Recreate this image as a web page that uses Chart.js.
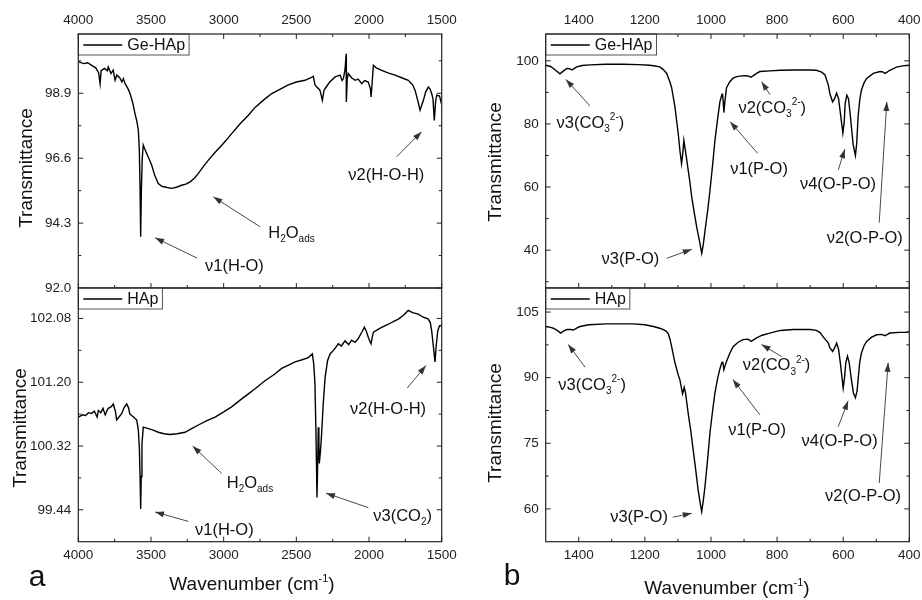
<!DOCTYPE html>
<html>
<head>
<meta charset="utf-8">
<script src="https://cdn.jsdelivr.net/npm/chart.js@4.4.0/dist/chart.umd.min.js"></script>
<style>
body{margin:0;background:#fff;}
#wrap{position:relative;width:922px;height:600px;overflow:hidden;font-family:"Liberation Sans",Arial,sans-serif;color:#111;}
canvas{position:absolute;left:0;top:0;}
.lbl{position:absolute;white-space:nowrap;transform:translate(-50%,-50%);line-height:1;}
.rot{transform:translate(-50%,-50%) rotate(-90deg);}
.sup{font-size:11px;position:relative;top:-8px;}
</style>
</head>
<body>
<div id="wrap">
<canvas id="tl" width="922" height="600"></canvas>
<canvas id="bl" width="922" height="600"></canvas>
<canvas id="tr" width="922" height="600"></canvas>
<canvas id="br" width="922" height="600"></canvas>
<div class="lbl rot" style="left:25px;top:168px;font-size:19px">Transmittance</div>
<div class="lbl rot" style="left:19px;top:428px;font-size:19px">Transmittance</div>
<div class="lbl rot" style="left:494px;top:162px;font-size:19px">Transmittance</div>
<div class="lbl rot" style="left:494px;top:423px;font-size:19px">Transmittance</div>
<div class="lbl" style="left:252px;top:583px;font-size:19px">Wavenumber (cm<span class="sup">-1</span>)</div>
<div class="lbl" style="left:727px;top:587px;font-size:19px">Wavenumber (cm<span class="sup">-1</span>)</div>
<div class="lbl" style="left:37px;top:576px;font-size:30px">a</div>
<div class="lbl" style="left:512px;top:575px;font-size:30px">b</div>
</div>
<script>
// x tick labels
const highXTicks = [4000, 3500, 3000, 2500, 2000, 1500];
const lowXTicks = [1400, 1200, 1000, 800, 600, 400];

// y tick labels for each panel
const geHighYTicks = [92.0, 94.3, 96.6, 98.9];
const hapHighYTicks = [99.44, 100.32, 101.20, 102.08];
const geLowYTicks = [40, 60, 80, 100];
const hapLowYTicks = [60, 75, 90, 105];

// Ge-HAp, 4000-1500 cm-1
const geHighX = [4000,3960,3935,3908,3880,3860,3850,3843,3820,3800,3794,3775,3760,3747,3735,3715,3700,3690,3678,3660,3644,3625,3610,3597,3587,3580,3575,3571,3566,3560,3553,3545,3530,3515,3495,3475,3450,3425,3402,3380,3357,3320,3289,3260,3231,3200,3174,3140,3105,3060,3013,2980,2945,2890,2830,2784,2716,2669,2610,2555,2500,2440,2400,2383,2372,2360,2345,2337,2321,2310,2302,2270,2233,2199,2185,2176,2165,2157,2156,2150,2143,2120,2096,2075,2050,2030,2005,1990,1986,1978,1970,1950,1912,1870,1821,1775,1730,1700,1683,1665,1649,1636,1626,1610,1592,1580,1569,1560,1551,1542,1534,1515,1500];
const geHighT = [100.01,99.95,99.98,99.89,99.80,99.62,99.24,99.70,99.78,99.70,99.83,99.60,99.72,99.36,99.55,99.45,99.30,99.42,99.24,99.08,98.89,98.55,98.18,97.90,97.59,96.88,95.5,93.82,95.5,96.6,97.06,96.95,96.77,96.60,96.35,96.0,95.70,95.60,95.58,95.55,95.53,95.58,95.64,95.68,95.76,95.90,96.06,96.30,96.53,96.80,97.06,97.25,97.47,97.80,98.12,98.40,98.70,98.89,99.05,99.20,99.30,99.36,99.45,99.50,99.20,99.12,99.05,99.0,98.65,99.0,99.07,99.30,99.48,99.54,99.35,99.42,99.75,100.30,98.59,99.40,99.60,99.45,99.36,99.40,99.24,99.35,99.30,99.05,98.77,99.3,99.89,99.80,99.71,99.62,99.54,99.45,99.36,99.20,99.0,98.65,98.30,98.50,98.65,98.95,99.12,99.05,98.89,98.70,97.94,98.60,98.83,98.80,98.50];

// HAp, 4000-1500 cm-1
const hapHighX = [4000,3970,3950,3930,3908,3890,3870,3862,3845,3830,3815,3800,3794,3775,3759,3745,3736,3720,3701,3685,3667,3655,3645,3633,3620,3610,3598,3587,3580,3575,3571,3567,3562,3553,3535,3518,3485,3450,3410,3369,3320,3266,3220,3174,3115,3059,3000,2945,2876,2830,2784,2716,2650,2601,2550,2509,2460,2418,2390,2380,2372,2365,2358,2352,2349,2345,2342,2334,2326,2315,2302,2285,2268,2240,2211,2190,2165,2140,2120,2096,2075,2050,2032,2018,2005,1993,1986,1978,1970,1920,1867,1830,1798,1765,1730,1700,1661,1630,1592,1578,1569,1555,1546,1538,1527,1515,1500];
const hapHighT = [100.72,100.75,100.74,100.78,100.77,100.80,100.72,100.81,100.78,100.84,100.75,100.82,100.84,100.86,100.90,100.80,100.68,100.72,100.77,100.85,100.90,100.85,100.76,100.74,100.72,100.70,100.68,100.54,100.30,99.90,99.45,99.90,100.35,100.58,100.57,100.56,100.54,100.51,100.49,100.48,100.49,100.51,100.56,100.61,100.67,100.72,100.79,100.86,100.97,101.04,101.11,101.22,101.31,101.39,101.44,101.48,101.51,101.54,101.59,101.45,101.18,100.5,99.61,100.2,100.58,100.4,100.08,100.25,100.49,100.9,101.27,101.50,101.59,101.65,101.73,101.70,101.77,101.72,101.78,101.75,101.80,101.89,101.96,101.90,101.82,101.76,101.73,101.82,101.89,101.95,102.00,102.04,102.07,102.12,102.19,102.16,102.14,102.10,102.07,102.02,101.91,101.65,101.48,101.70,101.91,101.98,101.98];

// Ge-HAp, 1500-400 cm-1
const geLowX = [1500,1485,1470,1457,1445,1436,1428,1421,1412,1406,1390,1366,1320,1265,1220,1185,1165,1154,1145,1134,1125,1119,1109,1099,1094,1089,1085,1082,1078,1073,1065,1058,1050,1043,1035,1028,1023,1018,1010,1003,995,988,980,973,967,965,963,961,958,953,943,933,922,900,888,879,872,862,852,822,790,751,700,681,665,655,645,640,632,626,620,614,608,601,597,594,589,584,578,570,563,559,555,550,545,537,529,509,489,480,474,466,459,439,420,400];
const geLowT = [98.6,98.2,97.0,95.9,96.9,97.6,97.5,97.1,97.7,98.1,98.5,98.7,98.9,98.9,98.8,98.6,98.3,98.0,97.3,96.0,93.5,91.5,85.4,76.9,71.6,67.4,71.0,74.8,72.0,68.4,62.5,56.7,51.5,47.2,43.0,39.0,42.0,46.2,52.5,58.9,67.0,74.8,81.5,87.0,89.3,89.4,87.0,83.6,87.0,91.5,93.4,94.5,95.0,95.3,95.2,94.8,95.3,96.0,96.6,96.8,97.0,97.1,97.1,97.0,96.4,95.5,92.3,89.5,87.0,88.0,89.8,88.0,83.0,77.1,80.5,86.5,89.1,88.0,82.2,73.5,70.0,74.0,82.2,87.5,90.7,93.0,94.4,96.0,96.6,96.5,96.0,96.5,97.0,98.0,98.4,98.6];

// HAp, 1500-400 cm-1
const hapLowX = [1500,1485,1477,1465,1455,1445,1436,1425,1416,1405,1396,1370,1315,1235,1200,1174,1155,1144,1135,1129,1124,1119,1109,1099,1094,1086,1081,1077,1069,1061,1054,1046,1039,1033,1028,1023,1018,1010,1003,995,988,980,973,967,964,961,957,953,943,933,918,903,888,878,870,862,845,822,790,751,700,681,670,665,655,645,640,632,626,620,614,608,600,596,592,587,582,576,569,563,558,554,550,545,537,529,515,499,484,474,466,459,430,409,400];
const hapLowT = [101.7,101.5,101.3,100.8,100.2,100.7,101.0,101.0,100.9,101.4,101.7,102.1,102.3,102.3,102.1,101.7,101.3,101.0,100.6,100.0,98.8,97.1,93.4,90.6,89.5,86.3,87.8,86.5,81.9,77.8,73.6,68.8,64.4,61.5,59.4,62.0,65.2,71.5,77.4,82.5,86.5,89.8,92.0,93.5,93.5,91.8,92.8,93.7,95.6,97.1,98.1,98.7,98.8,98.3,98.7,99.1,99.7,100.2,100.8,101.0,101.0,100.8,100.3,99.8,98.8,97.9,96.8,96.0,96.8,97.9,96.5,93.0,87.6,90.0,93.5,94.9,93.5,90.0,86.5,85.4,87.0,90.3,93.5,95.6,97.3,98.3,99.2,99.8,99.9,99.6,99.9,100.2,100.35,100.4,100.5];

const FONT = '"Liberation Sans", Arial, sans-serif';

function nu(t){ return [[t, '']]; }
const co3 = n => [['ν' + n + '(CO', ''], ['3', 'sub'], ['2-', 'sup'], [')', '']];
const h2o = [['H', ''], ['2', 'sub'], ['O', ''], ['ads', 'sub']];

// annotations in data units: text left/middle, arrow tail, arrow head
const geHighNotes = [
  {parts: nu('ν1(H-O)'), at: [3128, 92.75], from: [3183, 93.06], to: [3472, 93.78]},
  {parts: h2o, at: [2693, 93.95], from: [2750, 94.17], to: [3071, 95.23]},
  {parts: nu('ν2(H-O-H)'), at: [2143, 96.0], from: [1810, 96.65], to: [1638, 97.54]}
];
const hapHighNotes = [
  {parts: nu('ν1(H-O)'), at: [3197, 99.16], from: [3243, 99.28], to: [3472, 99.41]},
  {parts: h2o, at: [2979, 99.80], from: [3013, 99.94], to: [3213, 100.32]},
  {parts: [['ν3(CO', ''], ['2', 'sub'], [')', '']], at: [1971, 99.35], from: [2005, 99.47], to: [2296, 99.67]},
  {parts: nu('ν2(H-O-H)'), at: [2131, 100.82], from: [1737, 101.12], to: [1608, 101.43]}
];
const geLowNotes = [
  {parts: co3(3), at: [1467, 80.2], from: [1366, 85.7], to: [1439, 94.1]},
  {parts: nu('ν3(P-O)'), at: [1331, 37.1], from: [1134, 37.4], to: [1058, 40.3]},
  {parts: nu('ν1(P-O)'), at: [942, 65.6], from: [859, 70.7], to: [942, 80.7]},
  {parts: co3(2), at: [917, 85.0], from: [821, 89.2], to: [847, 93.4]},
  {parts: nu('ν4(O-P-O)'), at: [731, 60.9], from: [615, 65.4], to: [595, 72.0]},
  {parts: nu('ν2(O-P-O)'), at: [650, 43.8], from: [491, 48.7], to: [468, 87.0]}
];
const hapLowNotes = [
  {parts: co3(3), at: [1462, 88.3], from: [1381, 92.4], to: [1432, 97.6]},
  {parts: nu('ν3(P-O)'), at: [1305, 58.1], from: [1116, 58.1], to: [1058, 59.0]},
  {parts: nu('ν1(P-O)'), at: [948, 78.0], from: [852, 81.5], to: [934, 89.6]},
  {parts: co3(2), at: [904, 92.7], from: [786, 94.8], to: [847, 97.6]},
  {parts: nu('ν4(O-P-O)'), at: [726, 75.4], from: [615, 78.8], to: [585, 84.7]},
  {parts: nu('ν2(O-P-O)'), at: [655, 62.9], from: [491, 65.9], to: [464, 93.4]}
];

function drawParts(ctx, parts, x, y){
  parts.forEach(([t, mode]) => {
    let dy = 0;
    if(mode === 'sub'){ ctx.font = '10px ' + FONT; dy = 6; }
    else if(mode === 'sup'){ ctx.font = '10px ' + FONT; dy = -6; }
    else ctx.font = '16.5px ' + FONT;
    ctx.fillText(t, x, y + dy);
    x += ctx.measureText(t).width;
  });
}

function arrow(ctx, x1, y1, x2, y2){
  ctx.beginPath(); ctx.moveTo(x1, y1); ctx.lineTo(x2, y2); ctx.stroke();
  const a = Math.atan2(y2 - y1, x2 - x1);
  ctx.beginPath();
  ctx.moveTo(x2, y2);
  ctx.lineTo(x2 - 9*Math.cos(a) + 3*Math.sin(a), y2 - 9*Math.sin(a) - 3*Math.cos(a));
  ctx.lineTo(x2 - 9*Math.cos(a) - 3*Math.sin(a), y2 - 9*Math.sin(a) + 3*Math.cos(a));
  ctx.closePath(); ctx.fill();
}

function decor(cfg){
  return {
    id: 'decor',
    afterDatasetsDraw(chart){
      const {ctx, chartArea: a, scales: {x, y}} = chart;
      ctx.save();
      ctx.strokeStyle = '#222'; ctx.fillStyle = '#222'; ctx.lineWidth = 1;
      // inward ticks
      const xt = (vals, len) => vals.forEach(v => {
        const px = x.getPixelForValue(v);
        cfg.xSides.forEach(s => {
          const y0 = s === 'top' ? a.top : a.bottom;
          const d = s === 'top' ? len : -len;
          ctx.beginPath(); ctx.moveTo(px, y0); ctx.lineTo(px, y0 + d); ctx.stroke();
        });
      });
      const yt = (vals, len) => vals.forEach(v => {
        const py = y.getPixelForValue(v);
        ctx.beginPath(); ctx.moveTo(a.left, py); ctx.lineTo(a.left + len, py); ctx.stroke();
        ctx.beginPath(); ctx.moveTo(a.right, py); ctx.lineTo(a.right - len, py); ctx.stroke();
      });
      xt(cfg.xTicks, 5); xt(cfg.xMinor, 3);
      yt(cfg.yTicks, 5); yt(cfg.yMinor, 3);
      // annotations
      ctx.strokeStyle = '#333'; ctx.fillStyle = '#333'; ctx.lineWidth = 0.9;
      cfg.notes.forEach(n => {
        arrow(ctx, x.getPixelForValue(n.from[0]), y.getPixelForValue(n.from[1]),
                   x.getPixelForValue(n.to[0]), y.getPixelForValue(n.to[1]));
      });
      ctx.fillStyle = '#111'; ctx.textBaseline = 'middle'; ctx.textAlign = 'left';
      cfg.notes.forEach(n => drawParts(ctx, n.parts, x.getPixelForValue(n.at[0]), y.getPixelForValue(n.at[1])));
      // legend box
      ctx.font = '16px ' + FONT;
      const w = ctx.measureText(cfg.name).width + 53;
      ctx.fillStyle = '#fff';
      ctx.fillRect(a.left, a.top, w, 21);
      ctx.strokeStyle = '#555'; ctx.lineWidth = 1;
      ctx.strokeRect(a.left, a.top, w, 21);
      ctx.strokeStyle = '#000'; ctx.lineWidth = 1.4;
      ctx.beginPath(); ctx.moveTo(a.left + 5, a.top + 11); ctx.lineTo(a.left + 44, a.top + 11); ctx.stroke();
      ctx.fillStyle = '#111';
      ctx.fillText(cfg.name, a.left + 49, a.top + 11.5);
      // frame
      ctx.strokeStyle = '#222'; ctx.lineWidth = 1.2;
      ctx.strokeRect(a.left, a.top, a.right - a.left, a.bottom - a.top);
      ctx.restore();
    }
  };
}

function makePanel(id, xs, ys, cfg){
  new Chart(document.getElementById(id), {
    type: 'line',
    data: {
      datasets: [{
        label: cfg.name,
        data: xs.map((v, i) => ({x: v, y: ys[i]})),
        borderColor: '#000',
        borderWidth: 1.4,
        pointRadius: 0,
        tension: 0,
        fill: false
      }]
    },
    options: {
      responsive: false,
      animation: false,
      events: [],
      layout: {padding: cfg.pad, autoPadding: false},
      plugins: {legend: {display: false}, tooltip: {enabled: false}},
      scales: {
        x: {
          type: 'linear', reverse: true, min: cfg.xMin, max: cfg.xMax, position: cfg.xPos,
          afterBuildTicks: s => { s.ticks = cfg.xTicks.map(v => ({value: v})); },
          afterFit: s => { s.height = 30; s.paddingLeft = 0; s.paddingRight = 0; },
          ticks: {font: {family: FONT, size: 13.5}, color: '#222', padding: cfg.xPos === 'top' ? 6 : 5,
                  maxRotation: 0, autoSkip: false, callback: v => String(v)},
          grid: {display: false, drawTicks: false},
          border: {display: false}
        },
        y: {
          type: 'linear', min: cfg.yMin, max: cfg.yMax,
          afterBuildTicks: s => { s.ticks = cfg.yTicks.map(v => ({value: v})); },
          afterFit: s => { s.width = 60; s.paddingTop = 0; s.paddingBottom = 0; },
          ticks: {font: {family: FONT, size: 13.5}, color: '#222', padding: 7,
                  callback: v => v.toFixed(cfg.dec)},
          grid: {display: false, drawTicks: false},
          border: {display: false}
        }
      }
    },
    plugins: [decor(cfg)]
  });
}

makePanel('tl', geHighX, geHighT, {
  name: 'Ge-HAp', xMin: 1500, xMax: 4000, yMin: 92, yMax: 101, xPos: 'top', dec: 1,
  xTicks: highXTicks, xMinor: [3750, 3250, 2750, 2250, 1750], xSides: ['top', 'bottom'],
  yTicks: geHighYTicks, yMinor: [93.15, 95.45, 97.75, 100.05], notes: geHighNotes,
  pad: {left: 18.3, right: 480.3, top: 4, bottom: 312}
});
makePanel('bl', hapHighX, hapHighT, {
  name: 'HAp', xMin: 1500, xMax: 4000, yMin: 99.0, yMax: 102.5, xPos: 'bottom', dec: 2,
  xTicks: highXTicks, xMinor: [3750, 3250, 2750, 2250, 1750], xSides: ['bottom'],
  yTicks: hapHighYTicks, yMinor: [99.88, 100.76, 101.64], notes: hapHighNotes,
  pad: {left: 18.3, right: 480.3, top: 288, bottom: 28.3}
});
makePanel('tr', geLowX, geLowT, {
  name: 'Ge-HAp', xMin: 400, xMax: 1500, yMin: 28, yMax: 108.5, xPos: 'top', dec: 0,
  xTicks: lowXTicks, xMinor: [1300, 1100, 900, 700, 500], xSides: ['top', 'bottom'],
  yTicks: geLowYTicks, yMinor: [30, 50, 70, 90], notes: geLowNotes,
  pad: {left: 485.7, right: 12.7, top: 4, bottom: 312}
});
makePanel('br', hapLowX, hapLowT, {
  name: 'HAp', xMin: 400, xMax: 1500, yMin: 52.5, yMax: 110.5, xPos: 'bottom', dec: 0,
  xTicks: lowXTicks, xMinor: [1300, 1100, 900, 700, 500], xSides: ['bottom'],
  yTicks: hapLowYTicks, yMinor: [67.5, 82.5, 97.5], notes: hapLowNotes,
  pad: {left: 485.7, right: 12.7, top: 288, bottom: 28.3}
});
</script>
</body>
</html>
